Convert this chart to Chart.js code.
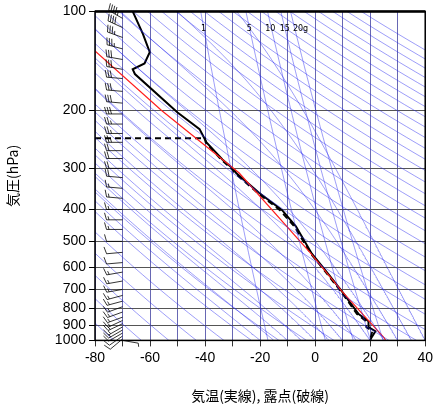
<!DOCTYPE html>
<html><head><meta charset="utf-8">
<script src="https://cdn.jsdelivr.net/npm/chart.js@4"></script>
<style>body{margin:0;background:#fff}#w{width:436px;height:411px}</style>
</head><body><div id="w"><canvas id="c"></canvas></div>
<script>
const pressTicks=[100,200,300,400,500,600,700,800,900,1000];
const tempP=[100,117,133,144,150,155,203,228,250,282,303,310,356,402,450,545,614,707,832,874,912,938,979,1000];
const tempT=[-66.3,-62.6,-60.1,-62,-66.3,-65.5,-50,-42,-39.5,-33.7,-29.4,-28.7,-20.4,-12,-7,-1.2,3.8,9.6,15.8,19.4,19.4,21.9,20.5,20];
const dewP=[243,243,250,282,303,310,356,402,450,545,614,707,832,874,912,938,979,1000];
const dewT=[-80,-40,-39.8,-34.2,-30,-29.2,-21,-12.8,-7.6,-1.6,3.4,9.2,15.2,18.4,18.6,20.8,20.2,19.6];
const parcelP=[132,200,310,545,707,980,1000];
const parcelT=[-80,-55.8,-27.6,-1.5,9.6,25,25.6];
const thetaList=[];for(let t=190;t<=560;t+=10)thetaList.push(t);
const moistStart=[-20,-15,-10,-5,0,5,10,15,20,25,30,35,40];
const mixRatios=[1,5,10,15,20];
const mixLabelShift=[0,0,-1,0,6];
const windP=[105,112,120,130,140,150,160,175,190,205,220,235,250,265,280,300,320,345,370,400,430,460,500,540,580,620,660,700,730,760,790,820,850,870,890,910,930,950,970,990,1000];
const windDir=[300,295,290,285,280,280,275,275,275,270,270,270,270,270,270,270,275,275,275,270,270,270,270,265,265,260,260,260,255,255,250,250,250,245,245,240,240,240,235,230,100];
const windSpd=[45,40,35,35,30,30,30,30,30,30,25,25,25,20,20,20,20,15,15,15,15,15,10,10,10,15,15,15,15,15,15,15,15,15,15,15,15,10,10,10,5];

const levels=[];for(let i=0;i<=60;i++)levels.push(1000*Math.pow(10,-i/60));
const ds=[];
const thin='rgba(40,40,240,0.65)';
thetaList.forEach(th=>ds.push({data:levels.map(p=>({x:th*Math.pow(p/1000,0.286)-273.15,y:p})),borderColor:thin,borderWidth:0.7,pointRadius:0,showLine:true}));
function es(Tc){return 6.112*Math.exp(17.67*Tc/(Tc+243.5));}
moistStart.forEach(t0=>{let T=t0+273.15,p=1000;const pts=[{x:t0,y:p}];
 while(p>100){const rs=0.622*es(T-273.15)/(p-es(T-273.15));const Lv=2.5e6,Rd=287,cp=1004;
  const dTdp=(Rd*T+Lv*rs)/(p*(cp+Lv*Lv*rs*0.622/(Rd*T*T)));const dp=-5;T+=dTdp*dp;p+=dp;pts.push({x:T-273.15,y:p});}
 ds.push({data:pts,borderColor:thin,borderWidth:0.7,pointRadius:0,showLine:true});});
function mixT(w,p){const e=w*p/(622+w);const l=Math.log(e/6.112);return 243.5*l/(17.67-l);}
mixRatios.forEach(w=>ds.push({data:levels.map(p=>({x:mixT(w,p),y:p})),borderColor:thin,borderWidth:0.7,pointRadius:0,showLine:true}));
ds.push({data:parcelP.map((p,i)=>({x:parcelT[i],y:p})),borderColor:'#ff2020',borderWidth:1.2,pointRadius:0,showLine:true});
ds.push({data:dewP.map((p,i)=>({x:dewT[i],y:p})),borderColor:'#000',borderWidth:1.8,borderDash:[6,4],pointRadius:0,showLine:true});
ds.push({data:tempP.map((p,i)=>({x:tempT[i],y:p})),borderColor:'#000',borderWidth:2,pointRadius:0,showLine:true});

const extras={id:'extras',afterDatasetsDraw(c){const ctx=c.ctx,xs=c.scales.x,ys=c.scales.y,a=c.chartArea;
 ctx.save();ctx.fillStyle='#000';ctx.font='8px "DejaVu Sans"';ctx.textAlign='center';
 mixRatios.forEach((w,i)=>{ctx.fillText(w===20?'20g':String(w),xs.getPixelForValue(mixT(w,112))+mixLabelShift[i],ys.getPixelForValue(112)+3);});
 ctx.strokeStyle='#000';ctx.lineWidth=0.8;
 windP.forEach((p,i)=>{const bx=xs.getPixelForValue(-70),by=ys.getPixelForValue(p);const d=windDir[i]*Math.PI/180;
  const L=16;const dx=Math.sin(d),dy=-Math.cos(d);const x2=bx+dx*L,y2=by+dy*L;
  ctx.beginPath();ctx.moveTo(bx,by);ctx.lineTo(x2,y2);
  let s=windSpd[i],pos=0;const px=-dy,py=dx;
  while(s>=10){const qx=x2-dx*pos,qy=y2-dy*pos;ctx.moveTo(qx,qy);ctx.lineTo(qx+px*7+dx*2,qy+py*7+dy*2);pos+=2.5;s-=10;}
  if(s>=5){const qx=x2-dx*pos,qy=y2-dy*pos;ctx.moveTo(qx,qy);ctx.lineTo(qx+px*3.5+dx*1,qy+py*3.5+dy*1);}
  ctx.stroke();});
 ctx.strokeStyle='#000';ctx.lineWidth=1.5;ctx.strokeRect(a.left,a.top,a.right-a.left,a.bottom-a.top);
 ctx.lineWidth=2.5;ctx.beginPath();ctx.moveTo(a.left,a.top);ctx.lineTo(a.right,a.top);ctx.stroke();
 ctx.restore();}};
new Chart(document.getElementById('c'),{type:'scatter',data:{datasets:ds},plugins:[extras],
 options:{animation:false,responsive:true,maintainAspectRatio:false,
  layout:{padding:{top:2,right:6,left:0,bottom:3}},
  plugins:{legend:{display:false},tooltip:{enabled:false}},
  scales:{
   x:{type:'linear',min:-80,max:40,ticks:{stepSize:10,autoSkip:false,color:'#000',font:{size:14,family:'Liberation Sans'},callback:v=>v%20===0?String(v):''},
      grid:{color:'#4040a0',lineWidth:0.8,tickLength:6,tickColor:'#000'},border:{display:false},
      title:{display:true,text:'気温(実線), 露点(破線)',color:'#000',font:{size:14,family:'Noto Sans CJK JP'},padding:{top:18}}},
   y:{type:'logarithmic',min:100,max:1000,reverse:true,afterBuildTicks:s=>{s.ticks=pressTicks.map(v=>({value:v}));},
      afterFit:s=>{s.width=95;},
      ticks:{color:'#000',font:{size:14,family:'Liberation Sans'},callback:v=>String(v)},
      grid:{color:'#555',lineWidth:1,tickLength:6,tickColor:'#000'},border:{display:false},
      title:{display:true,text:'気圧(hPa)',color:'#000',font:{size:14,family:'Noto Sans CJK JP'}}}
  }}});
</script></body></html>
